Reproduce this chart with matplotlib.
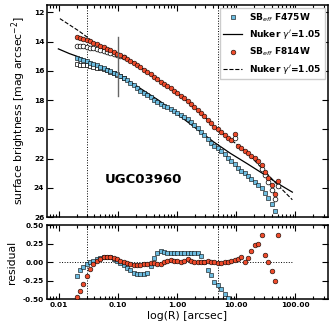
import numpy as np
import matplotlib
matplotlib.use("Agg")
import matplotlib.pyplot as plt
from matplotlib.ticker import LogLocator, NullFormatter

# radii of the isophotes [arcsec]
R = [0.020, 0.023, 0.026, 0.030, 0.034, 0.038, 0.044, 0.050, 0.057, 0.065,
     0.074, 0.084, 0.096, 0.109, 0.124, 0.142, 0.162, 0.184, 0.210, 0.240,
     0.273, 0.311, 0.355, 0.405, 0.461, 0.526, 0.599, 0.683, 0.779, 0.888,
     1.01, 1.15, 1.32, 1.50, 1.71, 1.95, 2.22, 2.53, 2.89, 3.29,
     3.75, 4.28, 4.88, 5.56, 6.34, 7.23, 8.24, 9.39, 10.7, 12.2,
     13.9, 15.9, 18.1, 20.6, 23.5, 26.8, 30.5, 34.8, 39.7, 45.2, 51.6]

# SB_eff profiles [mag arcsec^-2]
sb_475 = [15.15, 15.22, 15.28, 15.36, 15.45, 15.55, 15.63, 15.72, 15.82, 15.92,
          16.03, 16.13, 16.25, 16.37, 16.50, 16.65, 16.82, 17.00, 17.18, 17.35,
          17.50, 17.65, 17.80, 17.97, 18.12, 18.25, 18.38, 18.50, 18.63, 18.76,
          18.90, 19.03, 19.18, 19.33, 19.50, 19.70, 19.92, 20.16, 20.42, 20.68,
          20.92, 21.12, 21.30, 21.50, 21.72, 21.95, 22.17, 22.40, 22.62, 22.82,
          23.02, 23.20, 23.40, 23.60, 23.80, 24.05, 24.35, 24.68, 25.10, 25.60, 26.15]
sb_814 = [13.70, 13.76, 13.82, 13.90, 13.98, 14.08, 14.20, 14.30, 14.40, 14.50,
          14.60, 14.70, 14.82, 14.93, 15.05, 15.17, 15.30, 15.45, 15.60, 15.76,
          15.92, 16.08, 16.25, 16.42, 16.58, 16.74, 16.90, 17.05, 17.20, 17.36,
          17.52, 17.70, 17.88, 18.06, 18.26, 18.47, 18.68, 18.90, 19.12, 19.35,
          19.60, 19.82, 20.00, 20.19, 20.38, 20.57, 20.75, 20.30, 21.12, 21.30,
          21.47, 21.64, 21.82, 21.98, 22.15, 22.45, 22.95, 23.35, 23.80, 24.45, 23.55]

# observed (open symbols) profiles
R_in = R[:15]
obs_475 = [15.55, 15.57, 15.60, 15.63, 15.67, 15.72, 15.78, 15.84, 15.90, 15.97,
           16.06, 16.15, 16.26, 16.38, 16.51]
obs_814 = [14.28, 14.30, 14.33, 14.37, 14.42, 14.47, 14.53, 14.59, 14.65, 14.72,
           14.78, 14.84, 14.90, 14.97, 15.07]
R_out = [9.39, 26.8, 30.5, 34.8, 39.7, 45.2, 51.6]
obs_814_out = [20.60, 22.70, 23.15, 23.60, 24.15, 24.75, 23.85]

# Nuker fits
R_nk475 = [0.0098, 0.015, 0.02, 0.03, 0.05, 0.1, 0.2, 0.5, 1.0, 2.0, 4.17, 8.0, 15.3, 30, 50, 89]
nk_475 = [14.50, 14.82, 15.00, 15.30, 15.70, 16.25, 17.00, 18.05, 18.95, 19.88,
          20.87, 21.65, 22.35, 23.10, 23.70, 24.30]
R_nk814 = [0.0104, 0.0215, 0.028, 0.038, 0.057, 0.1, 0.184, 0.4, 1.0, 2.0, 5.0, 10, 13, 20, 30, 50, 89]
nk_814 = [12.43, 13.26, 13.60, 14.03, 14.45, 14.88, 15.40, 16.40, 17.52, 18.55,
          20.05, 21.00, 21.35, 22.10, 22.85, 23.80, 24.82]

# residuals
res_475 = [-0.19, -0.11, -0.07, -0.03, 0.00, 0.02, 0.04, 0.06, 0.07, 0.07,
           0.07, 0.05, 0.02, -0.01, -0.04, -0.08, -0.11, -0.14, -0.16, -0.16,
           -0.16, -0.14, -0.05, 0.06, 0.12, 0.15, 0.14, 0.13, 0.13, 0.12,
           0.12, 0.12, 0.12, 0.13, 0.13, 0.13, 0.12, 0.08, 0.01, -0.11,
           -0.17, -0.26, -0.31, -0.36, -0.42, -0.48, -0.56]
res_814 = [-0.47, -0.38, -0.29, -0.18, -0.09, -0.03, 0.02, 0.05, 0.07, 0.07,
           0.07, 0.06, 0.04, 0.02, 0.00, -0.01, -0.03, -0.04, -0.04, -0.04,
           -0.03, -0.02, -0.01, -0.01, -0.02, -0.02, 0.00, 0.02, 0.03, 0.02,
           0.02, 0.01, 0.02, 0.05, 0.02, 0.01, 0.00, 0.00, 0.01, 0.02,
           0.01, 0.00, -0.01, -0.01, 0.00, 0.01, 0.02, 0.03, 0.05, 0.07,
           0.00, 0.06, 0.15, 0.23, 0.25, 0.36, 0.10, 0.00, -0.12, -0.25, 0.36]

fit_range = [0.03, 5.0]
r_res = 0.1
blue = '#6CBCE0'
red = '#EE4B2B'

fig = plt.figure(figsize=(3.32, 3.28), dpi=100)
ax = fig.add_axes([0.1416, 0.3384, 0.8449, 0.6463])
axr = fig.add_axes([0.1416, 0.0869, 0.8449, 0.2271])

ms = 3.4
ax.plot(R_nk475, nk_475, '-', color='k', lw=0.9, zorder=2, label=r'Nuker $\gamma^{\prime}$=1.05')
ax.plot(R_nk814, nk_814, '--', color='k', lw=0.8, zorder=2, label=r'Nuker $\gamma^{\prime}$=1.05')
ax.plot(R_in, obs_475, 's', mfc='white', mec='k', mew=0.5, ms=ms, zorder=3)
ax.plot(R_in, obs_814, 'o', mfc='white', mec='k', mew=0.5, ms=ms, zorder=3)
ax.plot(R_out, obs_814_out, 'o', mfc='white', mec='k', mew=0.5, ms=ms, zorder=3)
ax.plot(R, sb_475, 's', mfc=blue, mec='k', mew=0.4, ms=ms, zorder=4, label=r'SB$_{eff}$ F475W')
ax.plot(R, sb_814, 'o', mfc=red, mec='k', mew=0.4, ms=ms, zorder=5, label=r'SB$_{eff}$ F814W')

for x in fit_range:
    ax.axvline(x, color='k', ls=':', lw=0.7, zorder=1)
    axr.axvline(x, color='k', ls=':', lw=0.7, zorder=1)
ax.plot([r_res, r_res], [13.7, 17.7], color='0.4', lw=1.0, zorder=6)

ax.set_xscale('log')
ax.set_xlim(0.0063, 350)
ax.set_ylim(26, 11.5)
ax.set_yticks([12, 14, 16, 18, 20, 22, 24, 26])
ax.xaxis.set_minor_formatter(NullFormatter())
ax.set_xticklabels([])
ax.set_ylabel(r'surface brightness [mag arcsec$^{-2}$]', fontsize=7.8)
ax.text(0.344, 0.175, 'UGC03960', transform=ax.transAxes, ha='center', va='center',
        fontsize=9.5, fontweight='bold')

h, l = ax.get_legend_handles_labels()
order = [2, 0, 3, 1]
leg = ax.legend([h[i] for i in order], [l[i] for i in order], loc='upper right',
                fontsize=6.5, numpoints=1, fancybox=False, edgecolor='0.8',
                framealpha=1, borderaxespad=0.3, handlelength=2.0)
for t in leg.get_texts():
    t.set_fontweight('bold')

axr.plot(R[:len(res_475)], res_475, 's', mfc=blue, mec='k', mew=0.4, ms=ms, zorder=4)
axr.plot(R, res_814, 'o', mfc=red, mec='k', mew=0.4, ms=ms, zorder=5)
axr.hlines(0, 0.01, 89, colors='k', linestyles=':', lw=0.7, zorder=1)
axr.set_xscale('log')
axr.set_xlim(0.0063, 350)
axr.set_ylim(-0.5, 0.5)
axr.set_yticks([-0.5, -0.25, 0, 0.25, 0.5])
axr.set_yticklabels(['%.2f' % v for v in [-0.5, -0.25, 0, 0.25, 0.5]])
xt = [0.01, 0.1, 1, 10, 100]
axr.set_xticks(xt)
axr.set_xticklabels(['%.2f' % v for v in xt])
axr.xaxis.set_minor_formatter(NullFormatter())
axr.set_ylabel('residual', fontsize=7.8)
axr.set_xlabel('log(R) [arcsec]', fontsize=7.8, labelpad=2)

for a in (ax, axr):
    a.xaxis.set_minor_locator(LogLocator(base=10, subs=np.arange(2, 10)))
    a.tick_params(which='both', direction='in', top=True, right=True, width=0.8,
                  labelsize=5.3, pad=2)
    a.tick_params(which='major', length=4)
    a.tick_params(which='minor', length=2)
    for s in a.spines.values():
        s.set_linewidth(1.1)
    for t in a.get_xticklabels() + a.get_yticklabels():
        t.set_fontweight('bold')

fig.savefig('out.png', dpi=100)
